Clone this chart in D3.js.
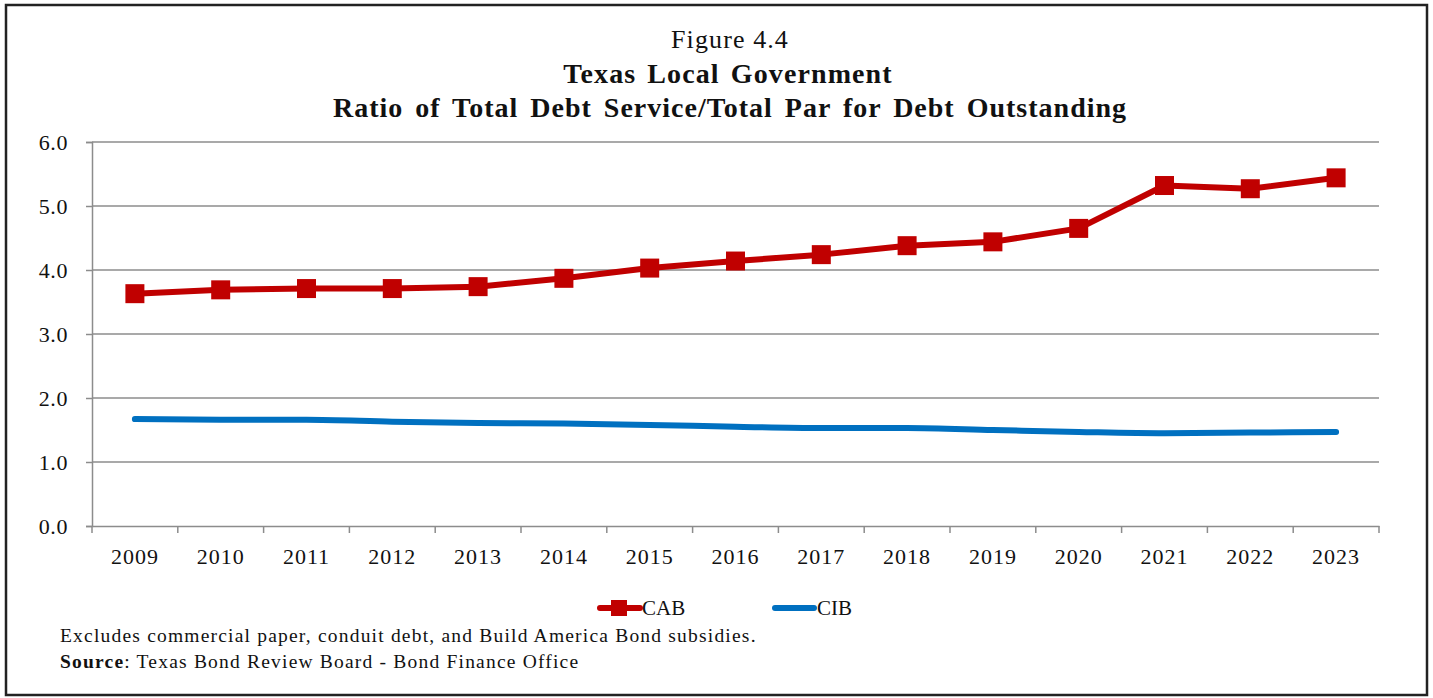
<!DOCTYPE html>
<html><head><meta charset="utf-8">
<script src="https://cdn.jsdelivr.net/npm/d3@7"></script>
<style>body{margin:0;background:#fff}svg{display:block}text{font-family:"Liberation Serif","DejaVu Serif",serif;fill:#111}</style>
</head><body>
<svg id="c" width="1433" height="698"></svg>
<script>
const years = ["2009","2010","2011","2012","2013","2014","2015","2016","2017","2018","2019","2020","2021","2022","2023"];
const cabValues = [3.63,3.69,3.71,3.71,3.74,3.87,4.03,4.14,4.24,4.38,4.44,4.65,5.32,5.27,5.44];
const cibValues = [1.67,1.66,1.66,1.63,1.61,1.60,1.58,1.55,1.53,1.53,1.50,1.47,1.45,1.46,1.47];
const yTicks = [0,1,2,3,4,5,6];
const titleLines = ["Figure 4.4","Texas Local Government","Ratio of Total Debt Service/Total Par for Debt Outstanding"];
const notes = ["Excludes commercial paper, conduit debt, and Build America Bond subsidies."];

const svg = d3.select("#c");
svg.append("rect").attr("x",6).attr("y",5).attr("width",1421).attr("height",690)
  .attr("fill","none").attr("stroke","#222").attr("stroke-width",2.5);

const L=92,R=1379,T=142,B=526;
const x = d3.scaleBand().domain(years).range([L,R]);
const y = d3.scaleLinear().domain([0,6]).range([B,T]);

// title
svg.append("text").attr("x",730).attr("y",48).attr("text-anchor","middle").attr("font-size",26)
  .attr("letter-spacing",1.1).text(titleLines[0]);
svg.append("text").attr("x",728).attr("y",83).attr("text-anchor","middle").attr("font-size",28).attr("font-weight","bold")
  .attr("letter-spacing",1.1).attr("word-spacing",3).text(titleLines[1]);
svg.append("text").attr("x",730).attr("y",117).attr("text-anchor","middle").attr("font-size",28).attr("font-weight","bold")
  .attr("letter-spacing",1.0).attr("word-spacing",4).text(titleLines[2]);

// gridlines
svg.append("g").selectAll("line").data(yTicks.filter(d=>d>0)).join("line")
  .attr("x1",L).attr("x2",R).attr("y1",d=>y(d)).attr("y2",d=>y(d))
  .attr("stroke","#8c8c8c").attr("stroke-width",1.5);

// y axis
const ya = svg.append("g").attr("transform",`translate(${L},0)`)
  .call(d3.axisLeft(y).tickValues(yTicks).tickFormat(d3.format(".1f")).tickSize(6).tickPadding(18));
ya.select(".domain").attr("stroke","#8c8c8c").attr("stroke-width",1.5);
ya.selectAll(".tick line").attr("stroke","#8c8c8c").attr("stroke-width",1.5);
ya.selectAll("text").attr("font-size",22).attr("letter-spacing",0.6).attr("font-family","Liberation Serif").attr("fill","#111");

// x axis
const xa = svg.append("g").attr("transform",`translate(0,${B})`)
  .call(d3.axisBottom(x).tickSize(0).tickPadding(22));
xa.select(".domain").attr("stroke","#8c8c8c").attr("stroke-width",1.5);
xa.selectAll("text").attr("font-size",22).attr("letter-spacing",1).attr("font-family","Liberation Serif").attr("fill","#111");
const bounds = years.map(d=>x(d)).concat([x(years[years.length-1])+x.bandwidth()]);
svg.append("g").selectAll("line").data(bounds).join("line")
  .attr("x1",d=>d).attr("x2",d=>d).attr("y1",B).attr("y2",B+7)
  .attr("stroke","#8c8c8c").attr("stroke-width",1.5);

const cx = d=>x(d)+x.bandwidth()/2;
// CIB
const cibLine = d3.line().x((d,i)=>cx(years[i])).y(d=>y(d)).curve(d3.curveMonotoneX);
svg.append("path").attr("d",cibLine(cibValues)).attr("fill","none")
  .attr("stroke","#0070C0").attr("stroke-width",6).attr("stroke-linecap","round");
// CAB
const cabLine = d3.line().x((d,i)=>cx(years[i])).y(d=>y(d));
svg.append("path").attr("d",cabLine(cabValues)).attr("fill","none")
  .attr("stroke","#C00000").attr("stroke-width",6).attr("stroke-linejoin","round");
const ms=19;
svg.append("g").selectAll("rect").data(cabValues).join("rect")
  .attr("x",(d,i)=>cx(years[i])-ms/2).attr("y",d=>y(d)-ms/2).attr("width",ms).attr("height",ms)
  .attr("fill","#C00000");

// legend
const lg = svg.append("g");
lg.append("line").attr("x1",600).attr("x2",640).attr("y1",608).attr("y2",608)
  .attr("stroke","#C00000").attr("stroke-width",6).attr("stroke-linecap","round");
lg.append("rect").attr("x",611).attr("y",600).attr("width",16).attr("height",16).attr("fill","#C00000");
lg.append("text").attr("x",642).attr("y",615).attr("font-size",21).text("CAB");
lg.append("line").attr("x1",775).attr("x2",814).attr("y1",608).attr("y2",608)
  .attr("stroke","#0070C0").attr("stroke-width",6).attr("stroke-linecap","round");
lg.append("text").attr("x",817).attr("y",615).attr("font-size",21).text("CIB");

// notes
svg.append("text").attr("x",60).attr("y",642).attr("font-size",19.5).attr("letter-spacing",1.2).text(notes[0]);
const s = svg.append("text").attr("x",60).attr("y",668).attr("font-size",19.5).attr("letter-spacing",1.2);
s.append("tspan").attr("font-weight","bold").text("Source");
s.append("tspan").text(": Texas Bond Review Board - Bond Finance Office");
</script>
</body></html>
